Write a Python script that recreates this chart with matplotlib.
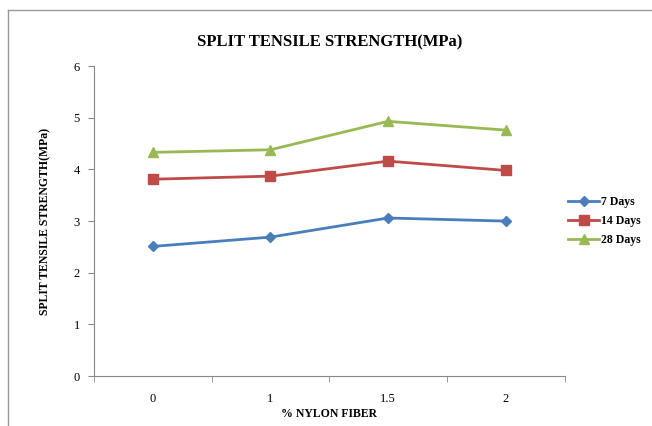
import matplotlib.pyplot as plt
from matplotlib.lines import Line2D

# data
fiber = ["0", "1", "1.5", "2"]
days_7 = [2.51, 2.69, 3.06, 3.00]
days_14 = [3.81, 3.87, 4.16, 3.98]
days_28 = [4.33, 4.38, 4.93, 4.76]

plt.rcParams['font.family'] = ['Liberation Serif', 'DejaVu Serif']

fig = plt.figure(figsize=(6.52, 4.26), dpi=100)
ax = fig.add_axes([0.144, 0.117, 0.722, 0.728])

x = list(range(len(fiber)))
ax.plot(x, days_7, color="#4a7ebb", marker="D", markersize=5, lw=2, label="7 Days")
ax.plot(x, days_14, color="#be4b48", marker="s", markersize=7, lw=2, label="14 Days")
ax.plot(x, days_28, color="#98b954", marker="^", markersize=7, lw=2, label="28 Days")

ax.set_xlim(-0.5, 3.5)
ax.set_ylim(0, 6)
ax.set_yticks(range(7))
ax.set_xticks(x)
ax.set_xticklabels(fiber)
ax.set_xticks([-0.5, 0.5, 1.5, 2.5, 3.5], minor=True)
ax.tick_params(axis="x", which="major", length=0, pad=12, labelsize=9)
ax.tick_params(axis="x", which="minor", length=4, color="#888888")
ax.tick_params(axis="y", length=4, color="#888888", labelsize=9, pad=6)
for s in ["top", "right"]:
    ax.spines[s].set_visible(False)
for s in ["left", "bottom"]:
    ax.spines[s].set_color("#888888")

ax.set_title("SPLIT TENSILE STRENGTH(MPa)", fontsize=12, fontweight="bold", pad=14)
ax.set_xlabel("% NYLON FIBER", fontsize=8.5, fontweight="bold", labelpad=2)
ax.set_ylabel("SPLIT TENSILE STRENGTH(MPa)", fontsize=8.5, fontweight="bold", labelpad=16)

ax.legend(loc="center left", bbox_to_anchor=(0.985, 0.5), frameon=False,
          prop={"size": 8.5, "weight": "bold"}, handlelength=2.6, handletextpad=0.2,
          labelspacing=0.6)

# chart area border (cut off on right and bottom)
fig.add_artist(Line2D([8/652, 8/652], [0, 1 - 10/426], transform=fig.transFigure, color="#999999", lw=1))
fig.add_artist(Line2D([8/652, 1], [1 - 10/426, 1 - 10/426], transform=fig.transFigure, color="#999999", lw=1))

fig.savefig("out.png", dpi=100)
